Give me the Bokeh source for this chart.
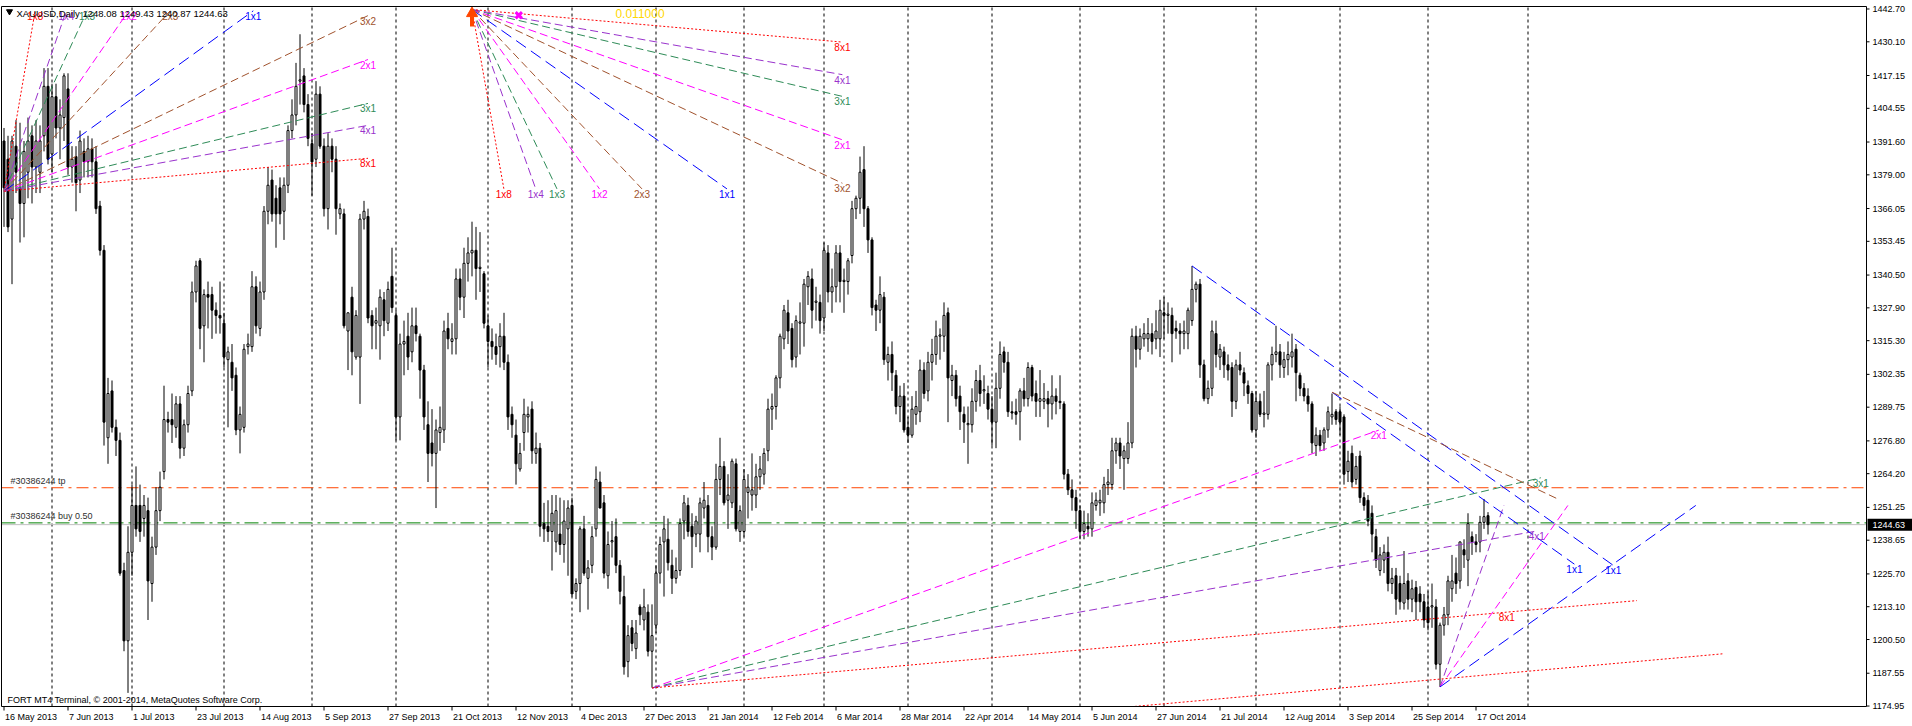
"""XAUUSD 日足チャートとギャンファンを描く."""
import typing as typ

import bokeh.models as bm
import bokeh.plotting as bp
from bokeh.core.properties import value
from bokeh.embed import file_html
from bokeh.resources import INLINE

FONT = "Liberation Sans"

# 日付ラベル (16 本ごと)
date_labels = [
    "16 May 2013", "7 Jun 2013", "1 Jul 2013", "23 Jul 2013", "14 Aug 2013", "5 Sep 2013",
    "27 Sep 2013", "21 Oct 2013", "12 Nov 2013", "4 Dec 2013", "27 Dec 2013", "21 Jan 2014",
    "12 Feb 2014", "6 Mar 2014", "28 Mar 2014", "22 Apr 2014", "14 May 2014", "5 Jun 2014",
    "27 Jun 2014", "21 Jul 2014", "12 Aug 2014", "3 Sep 2014", "25 Sep 2014", "17 Oct 2014",
]
date_step = 16

price_ticks = [
    1442.70, 1430.10, 1417.15, 1404.55, 1391.60, 1379.00, 1366.05, 1353.45, 1340.50, 1327.90, 1315.30,
    1302.35, 1289.75, 1276.80, 1264.20, 1251.25, 1238.65, 1225.70, 1213.10, 1200.50, 1187.55, 1174.95,
]

opens = [
    1392, 1385, 1362, 1390, 1374, 1368, 1380, 1394, 1382, 1380,
    1394, 1413, 1387, 1409, 1397, 1401, 1412, 1382, 1386, 1377,
    1388, 1384, 1389, 1384, 1367, 1350, 1278, 1296, 1282, 1277,
    1227, 1200, 1234, 1252, 1252, 1247, 1250, 1222, 1236, 1250,
    1265, 1285, 1285, 1282, 1291, 1274, 1283, 1296, 1334, 1346,
    1321, 1333, 1333, 1327, 1325, 1322, 1308, 1307, 1302, 1281,
    1282, 1313, 1313, 1336, 1320, 1334, 1365, 1377, 1370, 1374,
    1365, 1375, 1396, 1402, 1415, 1417, 1406, 1391, 1385, 1410,
    1390, 1366, 1390, 1385, 1364, 1364, 1319, 1332, 1309, 1309,
    1362, 1363, 1325, 1322, 1321, 1331, 1322, 1340, 1325, 1286,
    1314, 1317, 1311, 1321, 1317, 1304, 1283, 1276, 1272, 1280,
    1281, 1320, 1315, 1316, 1339, 1332, 1345, 1349, 1350, 1343,
    1341, 1321, 1315, 1313, 1313, 1317, 1307, 1287, 1279, 1266,
    1280, 1286, 1289, 1272, 1274, 1245, 1244, 1242, 1238, 1241,
    1237, 1243, 1252, 1219, 1222, 1243, 1224, 1229, 1243, 1261,
    1253, 1225, 1238, 1240, 1229, 1217, 1192, 1205, 1197, 1213,
    1208, 1211, 1196, 1206, 1226, 1238, 1239, 1229, 1224, 1227,
    1246, 1252, 1244, 1241, 1241, 1251, 1252, 1240, 1236, 1262,
    1267, 1254, 1253, 1268, 1242, 1242, 1257, 1256, 1256, 1263,
    1264, 1273, 1289, 1290, 1301, 1316, 1326, 1320, 1309, 1322,
    1322, 1336, 1339, 1330, 1330, 1324, 1349, 1334, 1336, 1349,
    1338, 1338, 1348, 1366, 1370, 1381, 1366, 1354, 1329, 1327,
    1332, 1307, 1310, 1302, 1290, 1294, 1282, 1279, 1287, 1288,
    1304, 1296, 1307, 1310, 1317, 1317, 1326, 1300, 1302, 1294,
    1287, 1283, 1283, 1292, 1300, 1296, 1295, 1289, 1284, 1297,
    1311, 1307, 1288, 1288, 1288, 1296, 1293, 1305, 1295, 1292,
    1292, 1293, 1291, 1294, 1292, 1291, 1264, 1258, 1255, 1250,
    1242, 1244, 1243, 1252, 1253, 1253, 1260, 1260, 1273, 1276,
    1270, 1270, 1276, 1317, 1312, 1316, 1316, 1318, 1316, 1316,
    1326, 1325, 1325, 1320, 1319, 1318, 1318, 1323, 1335, 1337,
    1306, 1293, 1297, 1318, 1309, 1311, 1306, 1305, 1292, 1306,
    1303, 1298, 1295, 1281, 1292, 1287, 1287, 1306, 1310, 1311,
    1305, 1308, 1309, 1312, 1302, 1297, 1294, 1291, 1275, 1279,
    1276, 1281, 1286, 1288, 1288, 1286, 1265, 1272, 1262, 1271,
    1255, 1254, 1249, 1240, 1227, 1231, 1234, 1222, 1225, 1222,
    1214.5, 1223, 1216, 1220.5, 1218, 1215, 1213, 1213, 1213, 1191,
    1206, 1210, 1220, 1226, 1223, 1235, 1231, 1240, 1238, 1238,
    1245.5, 1248.08,
]
highs = [
    1397, 1394, 1394, 1400, 1399, 1392, 1401, 1398, 1400, 1398,
    1420, 1420, 1414, 1414, 1408, 1418, 1418, 1390, 1390, 1396,
    1393, 1394, 1393, 1390, 1369, 1352, 1301, 1300, 1285, 1280,
    1230, 1244, 1260, 1267, 1260, 1256, 1255, 1240, 1259, 1265,
    1298, 1288, 1295, 1294, 1294, 1285, 1298, 1338, 1346, 1347,
    1335, 1338, 1336, 1330, 1338, 1326, 1313, 1314, 1305, 1290,
    1314, 1318, 1342, 1340, 1338, 1367, 1382, 1381, 1375, 1378,
    1378, 1398, 1408, 1422, 1433, 1420, 1410, 1395, 1415, 1413,
    1393, 1395, 1393, 1390, 1368, 1366, 1326, 1336, 1327, 1364,
    1369, 1366, 1327, 1328, 1335, 1334, 1338, 1351, 1327, 1318,
    1323, 1326, 1328, 1328, 1318, 1306, 1292, 1289, 1285, 1290,
    1323, 1326, 1322, 1343, 1343, 1351, 1355, 1361, 1359, 1357,
    1342, 1325, 1320, 1318, 1322, 1326, 1310, 1290, 1285, 1276,
    1293, 1290, 1292, 1280, 1276, 1253, 1254, 1256, 1256, 1255,
    1254, 1254, 1255, 1224, 1244, 1248, 1231, 1244, 1267, 1265,
    1256, 1242, 1246, 1247, 1231, 1225, 1206, 1208, 1208, 1214,
    1220, 1214, 1214, 1229, 1240, 1248, 1247, 1235, 1232, 1247,
    1256, 1255, 1249, 1248, 1255, 1261, 1256, 1244, 1268, 1278,
    1269, 1264, 1270, 1270, 1252, 1266, 1264, 1272, 1268, 1271,
    1274, 1293, 1295, 1302, 1318, 1329, 1331, 1322, 1325, 1330,
    1339, 1342, 1343, 1336, 1333, 1353, 1352, 1343, 1352, 1352,
    1343, 1347, 1369, 1371, 1386, 1390, 1367, 1355, 1331, 1340,
    1334, 1313, 1315, 1304, 1298, 1299, 1286, 1294, 1296, 1308,
    1307, 1311, 1316, 1323, 1320, 1330, 1328, 1306, 1304, 1298,
    1290, 1290, 1297, 1304, 1306, 1302, 1298, 1294, 1303, 1315,
    1313, 1311, 1292, 1293, 1297, 1301, 1307, 1306, 1300, 1304,
    1299, 1296, 1302, 1297, 1302, 1292, 1266, 1262, 1258, 1252,
    1250, 1249, 1257, 1257, 1258, 1263, 1266, 1278, 1278, 1278,
    1275, 1284, 1320, 1321, 1320, 1322, 1324, 1322, 1327, 1331,
    1332, 1330, 1328, 1323, 1322, 1323, 1328, 1344, 1338, 1339,
    1308, 1300, 1323, 1323, 1314, 1313, 1310, 1307, 1308, 1311,
    1305, 1300, 1296, 1296, 1295, 1296, 1307, 1313, 1321, 1314,
    1311, 1315, 1318, 1314, 1303, 1299, 1297, 1292, 1282, 1281,
    1282, 1290, 1295, 1289, 1290, 1287, 1273, 1275, 1271, 1273,
    1257, 1256, 1252, 1243, 1236, 1237, 1240, 1228, 1228, 1225,
    1234.5, 1226, 1223.5, 1223, 1221, 1218, 1219, 1222, 1216, 1207,
    1213, 1225, 1233, 1232, 1238, 1239, 1249, 1242, 1241, 1248,
    1254.5, 1249.43,
]
lows = [
    1359, 1357, 1337, 1372, 1353, 1355, 1370, 1368, 1372, 1372,
    1388, 1383, 1380, 1393, 1385, 1392, 1379, 1376, 1365, 1372,
    1378, 1378, 1378, 1364, 1348, 1275, 1268, 1280, 1271, 1225,
    1196, 1180, 1225, 1240, 1238, 1240, 1208, 1215, 1233, 1246,
    1262, 1280, 1276, 1278, 1270, 1271, 1280, 1294, 1330, 1312,
    1307, 1320, 1316, 1318, 1318, 1305, 1282, 1296, 1279, 1272,
    1280, 1310, 1311, 1318, 1317, 1331, 1360, 1361, 1351, 1360,
    1354, 1372, 1393, 1398, 1406, 1403, 1390, 1371, 1382, 1389,
    1363, 1358, 1380, 1356, 1362, 1320, 1304, 1302, 1308, 1291,
    1358, 1322, 1312, 1312, 1308, 1317, 1319, 1326, 1277, 1277,
    1302, 1304, 1307, 1315, 1293, 1281, 1261, 1267, 1251, 1273,
    1276, 1312, 1310, 1310, 1327, 1324, 1338, 1340, 1331, 1334,
    1320, 1305, 1308, 1306, 1305, 1304, 1281, 1278, 1260, 1265,
    1273, 1280, 1268, 1268, 1240, 1238, 1238, 1227, 1234, 1233,
    1230, 1225, 1217, 1216, 1211, 1225, 1212, 1226, 1240, 1251,
    1224, 1220, 1232, 1226, 1214, 1187, 1186, 1196, 1193, 1206,
    1204, 1194, 1182, 1203, 1222, 1217, 1227, 1218, 1222, 1225,
    1239, 1240, 1228, 1236, 1234, 1247, 1234, 1231, 1235, 1256,
    1252, 1243, 1251, 1242, 1238, 1240, 1247, 1250, 1251, 1258,
    1260, 1269, 1281, 1285, 1297, 1312, 1314, 1305, 1305, 1310,
    1313, 1329, 1320, 1323, 1318, 1319, 1330, 1326, 1330, 1330,
    1326, 1333, 1345, 1362, 1364, 1359, 1349, 1325, 1319, 1322,
    1306, 1300, 1296, 1287, 1284, 1280, 1276, 1278, 1283, 1284,
    1293, 1292, 1300, 1306, 1308, 1311, 1284, 1294, 1290, 1281,
    1276, 1268, 1280, 1288, 1290, 1291, 1285, 1275, 1274, 1293,
    1303, 1286, 1285, 1283, 1277, 1290, 1290, 1292, 1286, 1286,
    1289, 1282, 1285, 1287, 1289, 1262, 1256, 1250, 1243, 1239,
    1239, 1240, 1240, 1250, 1248, 1249, 1256, 1258, 1268, 1266,
    1258, 1268, 1274, 1305, 1308, 1313, 1311, 1310, 1312, 1309,
    1316, 1318, 1307, 1316, 1310, 1312, 1312, 1321, 1330, 1301,
    1292, 1291, 1294, 1305, 1304, 1301, 1300, 1286, 1289, 1302,
    1294, 1291, 1280, 1278, 1286, 1282, 1285, 1300, 1307, 1301,
    1301, 1302, 1305, 1292, 1294, 1292, 1288, 1272, 1271, 1273,
    1273, 1278, 1283, 1283, 1279, 1260, 1261, 1259, 1260, 1253,
    1250, 1244, 1234, 1228, 1225, 1226, 1219, 1218, 1210, 1212,
    1212, 1212, 1211, 1208, 1211, 1205, 1204, 1205, 1189, 1182.3,
    1202, 1206, 1215, 1218, 1220, 1228, 1221, 1233, 1234, 1234,
    1243, 1240.87,
]
closes = [
    1374, 1359, 1392, 1380, 1368, 1388, 1392, 1382, 1392, 1392,
    1413, 1385, 1409, 1397, 1402, 1417, 1382, 1385, 1376, 1392,
    1384, 1389, 1384, 1366, 1350, 1284, 1295, 1282, 1277, 1226,
    1200, 1234, 1252, 1243, 1242, 1252, 1223, 1236, 1250, 1259,
    1285, 1284, 1283, 1291, 1274, 1283, 1295, 1334, 1344, 1320,
    1333, 1332, 1327, 1325, 1324, 1309, 1311, 1301, 1281, 1287,
    1312, 1314, 1336, 1321, 1334, 1365, 1375, 1364, 1364, 1364,
    1375, 1396, 1402, 1413, 1415.5, 1406, 1393, 1384, 1410, 1390,
    1366, 1390, 1385, 1366, 1366, 1321, 1326, 1311, 1325, 1362,
    1365, 1324, 1321, 1323, 1332, 1323, 1335, 1328, 1286, 1314,
    1315, 1309, 1321, 1318, 1304, 1286, 1272, 1272, 1281, 1282,
    1319, 1316, 1316, 1339, 1332, 1345, 1349, 1350, 1343, 1343.5,
    1322, 1315, 1313, 1310, 1317, 1307, 1286, 1283, 1268, 1272,
    1287, 1287, 1273, 1274, 1244, 1243, 1242, 1249, 1250, 1237,
    1246, 1251, 1218, 1222, 1243, 1226, 1228, 1240, 1262, 1251,
    1226, 1237, 1238.5, 1229, 1219, 1190, 1202, 1199, 1203, 1210,
    1213, 1196, 1202, 1226, 1237, 1243, 1230, 1224, 1227, 1245,
    1253, 1242, 1240, 1246, 1253, 1254, 1240, 1236, 1262, 1267,
    1253, 1256, 1269, 1243, 1250, 1262, 1259, 1258, 1263, 1266,
    1272, 1289, 1290, 1301, 1317, 1327, 1319, 1308, 1323, 1322.5,
    1337, 1340, 1327, 1330.5, 1323, 1350, 1334, 1336, 1349, 1338,
    1338.5, 1346, 1366, 1370, 1380, 1366, 1354, 1328, 1327, 1333,
    1308, 1310, 1303, 1290, 1294, 1281, 1279, 1289, 1290, 1304,
    1295, 1307, 1310, 1317, 1317.5, 1325, 1301, 1302, 1293, 1288,
    1284, 1283.5, 1292, 1300, 1295, 1296.5, 1289, 1284, 1297, 1310,
    1307, 1288, 1287.5, 1287, 1296, 1293, 1305, 1294, 1292, 1293,
    1293, 1291, 1294, 1292, 1291.5, 1264, 1258, 1255, 1250, 1242,
    1245, 1243, 1253, 1254, 1254, 1260, 1261, 1273, 1276, 1271,
    1273, 1276, 1317, 1312, 1317, 1318, 1318, 1315, 1319, 1327,
    1325, 1325.5, 1318, 1319, 1318, 1319, 1327, 1335, 1337, 1306,
    1293, 1297, 1319, 1310, 1312, 1306, 1304, 1292, 1306, 1304,
    1299, 1295, 1281, 1292, 1287, 1287.5, 1306, 1310, 1311, 1306,
    1308, 1310, 1311, 1303, 1297, 1294, 1291, 1276, 1279, 1275,
    1281, 1288, 1287, 1285, 1284, 1264, 1269, 1261, 1267, 1255,
    1252, 1246, 1241, 1231, 1233, 1234, 1222, 1224, 1216, 1215,
    1222, 1216, 1220, 1215, 1215, 1208, 1207, 1213.5, 1191, 1206,
    1210, 1223, 1223, 1222, 1238, 1233, 1245, 1238, 1237, 1245.5,
    1247.7, 1244.63,
]

# 月の区切り線 (バー番号)
separator_bars = [12, 32, 55, 77, 98, 121, 142, 163, 185, 205, 226, 247, 269, 290, 313, 334, 356, 381]

bid_price = 1244.63
tp_price = 1258.8
buy_price = 1245.3
header_text = "XAUUSD,Daily  1248.08 1249.43 1240.87 1244.63"
footer_text = "FORT MT4 Terminal, \u00a9 2001-2014, MetaQuotes Software Corp."
tp_text = "#30386244 tp"
buy_text = "#30386244 buy 0.50"

ALL_RAYS = ["1x8", "1x4", "1x3", "1x2", "2x3", "1x1", "3x2", "2x1", "3x1", "4x1", "8x1"]

# ギャンファン: 原点(バー, 価格), 1x1 の傾き, 終点
fan1_origin = (0, 1372.7)
fan1_unit = 1.112
fan1_end_bar = 91
fan1_end_price = 1442.0

fan2_origin = (117, 1442.5)
fan2_unit = -1.081
fan2_end_bar = 209.6
fan2_end_price = 1373.6
fan2_scale = "0.011000"
fan2_scale_at = (159.0, 1441.0)

fan3_origin = (162, 1181.9)
fan3_unit = 1.09
fan3_rays = ["2x1", "3x1", "4x1", "8x1"]
fan3_end_bars = [343.7, 384.2, 383.2, 408.2]
fan3_label_bars = [343.7, 384.2, 383.2, 375.7]

fan4_origin = (359, 1182.3)
fan4_unit = 1.09
fan4_rays = ["1x4", "1x2", "1x1"]
fan4_end_price = 1252.0

fan5_origin = (297, 1344.0)
fan5_unit = -1.092
fan5_rays = ["1x1"]
fan5_end_bars = [402.3]

fan6_origin = (332, 1295.5)
fan6_unit = -1.09
fan6_rays = ["1x1", "3x2"]
fan6_end_bars = [392.6, 388.8]
fan6_label_bars = [392.6, None]

fan7_origin = (282.7, 1174.8)
fan7_unit = 1.1
fan7_rays = ["8x1"]
fan7_end_bars = [429.6]

buy_arrow_at = (117.0, 1441.0)
close_mark_at = (128.7, 1440.3)

GANN_STYLE: typ.Dict[str, typ.Tuple[str, str]] = {
    "1x8": ("#ff0000", "2 2"),
    "1x4": ("#9932cc", "8 4"),
    "1x3": ("#2e8b57", "8 4"),
    "1x2": ("#ff00ff", "8 4"),
    "2x3": ("#a0522d", "8 4"),
    "1x1": ("#0000ff", "12 6"),
    "3x2": ("#a0522d", "8 4"),
    "2x1": ("#ff00ff", "8 4"),
    "3x1": ("#2e8b57", "8 4"),
    "4x1": ("#9932cc", "8 4"),
    "8x1": ("#ff0000", "2 2"),
}

# 画面の大きさ (px): チャート枠は左上 (1, 6) から 1865x700, 1 本 4px
FIG_W, FIG_H = 1912, 726
PLOT_L, PLOT_T = 1, 6
PLOT_W, PLOT_H = 1865, 700
X_LO, X_HI = -0.625, 465.625
Y_LO, Y_HI = 1174.77, 1443.66
BX = (X_HI - X_LO) / PLOT_W  # 1px あたりのバー
BY = (Y_HI - Y_LO) / PLOT_H  # 1px あたりの価格


def ray_point(origin: typ.Tuple[float, float], unit: float, name: str, end_bar: float,
              end_price: typ.Optional[float] = None) -> typ.Tuple[float, float]:
    """レイの終点を求める.

    Args:
        origin: 原点
        unit: 1x1 の傾き(価格/バー)
        name: "AxB" の名前
        end_bar: 終点のバー
        end_price: 終点の価格 (先に届けばそこで止める)

    Returns:
        (バー, 価格)
    """
    t, p = name.split("x")
    slope = unit * int(p) / int(t)
    bar = end_bar
    if end_price is not None:
        bar = min(bar, origin[0] + (end_price - origin[1]) / slope)
    return bar, origin[1] + slope * (bar - origin[0])


def draw_fan(fig: bp.figure, labels: typ.Dict[str, list], origin: typ.Tuple[float, float], unit: float,
             rays: typ.List[str], end_bars: typ.List[float], end_price: typ.Optional[float],
             label_bars: typ.List[typ.Optional[float]]) -> None:
    """ギャンファンを描く."""
    for name, end_bar, label_bar in zip(rays, end_bars, label_bars):
        color, dash = GANN_STYLE[name]
        x1, y1 = ray_point(origin, unit, name, end_bar, end_price)
        fig.segment(x0=[origin[0]], y0=[origin[1]], x1=[x1], y1=[y1],
                    line_color=color, line_dash=dash, line_width=1)
        if label_bar is not None:
            lx, ly = ray_point(origin, unit, name, label_bar, end_price)
            labels["x"].append(lx)
            labels["y"].append(ly)
            labels["text"].append(name)
            labels["color"].append(color)


def put_text(fig: bp.figure, x: float, y: float, text: str, size: str = "9px", color: str = "black",
             align: str = "left", baseline: str = "middle") -> None:
    """文字を置く."""
    fig.text(x=[x], y=[y], text=[text], text_color=color, text_align=align, text_baseline=baseline,
             text_font=value(FONT), text_font_size=size)


def make_chart() -> bp.figure:
    """チャートを作る."""
    fig = bp.figure(
        width=FIG_W, height=FIG_H,
        x_range=bm.Range1d(X_LO - PLOT_L * BX, X_LO + (FIG_W - PLOT_L) * BX),
        y_range=bm.Range1d(Y_HI - (FIG_H - PLOT_T) * BY, Y_HI + PLOT_T * BY),
        x_axis_location=None, y_axis_location=None, tools="", toolbar_location=None,
        output_backend="svg", min_border=0,
        background_fill_color="white", border_fill_color="white",
    )
    fig.outline_line_color = None
    fig.grid.visible = False

    # 区切り線と水平線
    fig.segment(x0=separator_bars, y0=Y_LO, x1=separator_bars, y1=Y_HI,
                line_color="black", line_dash="3 3", line_width=1)
    fig.segment(x0=[X_LO], y0=[bid_price], x1=[X_HI], y1=[bid_price], line_color="#c0c0c0", line_width=1)
    fig.segment(x0=[X_LO], y0=[tp_price], x1=[X_HI], y1=[tp_price], line_color="#ff4500",
                line_dash="12 5 3 5", line_width=1)
    fig.segment(x0=[X_LO], y0=[buy_price], x1=[X_HI], y1=[buy_price], line_color="#008000",
                line_dash="14 5 3 5", line_width=1)

    # ローソク足
    bars = list(range(len(closes)))
    up = [c >= o for o, c in zip(opens, closes)]
    source = bp.ColumnDataSource(dict(
        x=bars, high=highs, low=lows,
        top=[max(o, c) for o, c in zip(opens, closes)],
        bottom=[min(o, c) for o, c in zip(opens, closes)],
        fill=["white" if u else "black" for u in up],
    ))
    fig.segment(x0="x", y0="low", x1="x", y1="high", line_color="black", line_width=1, source=source)
    fig.vbar(x="x", width=0.5, top="top", bottom="bottom", fill_color="fill",
             line_color="black", line_width=1, source=source)

    # ギャンファン
    labels: typ.Dict[str, list] = {"x": [], "y": [], "text": [], "color": []}
    draw_fan(fig, labels, fan1_origin, fan1_unit, ALL_RAYS, [fan1_end_bar] * len(ALL_RAYS),
             fan1_end_price, [fan1_end_bar] * len(ALL_RAYS))
    draw_fan(fig, labels, fan2_origin, fan2_unit, ALL_RAYS, [fan2_end_bar] * len(ALL_RAYS),
             fan2_end_price, [fan2_end_bar] * len(ALL_RAYS))
    draw_fan(fig, labels, fan3_origin, fan3_unit, fan3_rays, fan3_end_bars, None, fan3_label_bars)
    draw_fan(fig, labels, fan4_origin, fan4_unit, fan4_rays, [X_HI] * len(fan4_rays),
             fan4_end_price, [None] * len(fan4_rays))
    draw_fan(fig, labels, fan5_origin, fan5_unit, fan5_rays, fan5_end_bars, None, fan5_end_bars)
    draw_fan(fig, labels, fan6_origin, fan6_unit, fan6_rays, fan6_end_bars, None, fan6_label_bars)
    draw_fan(fig, labels, fan7_origin, fan7_unit, fan7_rays, fan7_end_bars, None, [None])
    fig.text(x="x", y="y", text="text", text_color="color", source=bp.ColumnDataSource(labels),
             text_align="center", text_baseline="top", text_font=value(FONT), text_font_size="10px")
    put_text(fig, fan2_scale_at[0], fan2_scale_at[1], fan2_scale, size="12px", color="#ffd700", align="center")

    # 注文の矢印と決済マーク
    fig.segment(x0=[buy_arrow_at[0]], y0=[buy_arrow_at[1] - 3 * BY], x1=[buy_arrow_at[0]],
                y1=[buy_arrow_at[1] - 13 * BY], line_color="#ff4500", line_width=4)
    fig.scatter(x=[buy_arrow_at[0]], y=[buy_arrow_at[1]], marker="triangle", size=11,
                fill_color="#ff4500", line_color="#ff4500")
    fig.scatter(x=[close_mark_at[0]], y=[close_mark_at[1]], marker="x", size=9,
                line_color="#ff00ff", line_width=3)

    # 枠と価格軸・時間軸
    fig.segment(x0=[X_LO, X_LO, X_HI, X_LO], y0=[Y_HI, Y_LO, Y_LO, Y_LO],
                x1=[X_HI, X_LO, X_HI, X_HI], y1=[Y_HI, Y_HI, Y_HI, Y_LO],
                line_color="black", line_width=1)
    fig.segment(x0=X_HI, y0=price_ticks, x1=X_HI + 3 * BX, y1=price_ticks, line_color="black", line_width=1)
    fig.text(x=X_HI + 6 * BX, y=price_ticks, text=[f"{t:.2f}" for t in price_ticks], text_color="black",
             text_align="left", text_baseline="middle", text_font=value(FONT), text_font_size="9px")
    ticks = [i * date_step for i in range(len(date_labels))]
    fig.segment(x0=ticks, y0=Y_LO, x1=ticks, y1=Y_LO - 4 * BY, line_color="black", line_width=1)
    fig.text(x=[t + BX for t in ticks], y=Y_LO - 5 * BY, text=date_labels, text_color="black",
             text_align="left", text_baseline="top", text_font=value(FONT), text_font_size="9px")
    fig.quad(left=[X_HI + 1 * BX], right=[X_LO + (FIG_W - PLOT_L) * BX], top=[bid_price + 6 * BY],
             bottom=[bid_price - 6 * BY], fill_color="black", line_color=None)
    put_text(fig, X_HI + 6 * BX, bid_price, f"{bid_price:.2f}", color="white")

    # テキスト類
    fig.scatter(x=[X_LO + 8 * BX], y=[Y_HI - 5 * BY], marker="inverted_triangle", size=6,
                fill_color="black", line_color="black")
    put_text(fig, X_LO + 15 * BX, Y_HI - 1 * BY, header_text, size="9.5px", baseline="top")
    put_text(fig, X_LO + 6 * BX, Y_LO + 2 * BY, footer_text, baseline="bottom")
    put_text(fig, X_LO + 9 * BX, tp_price + 2 * BY, tp_text, color="#303030", baseline="bottom")
    put_text(fig, X_LO + 9 * BX, buy_price + 2 * BY, buy_text, color="#303030", baseline="bottom")
    return fig


def main() -> None:
    """メイン."""
    fig = make_chart()
    with open("out.html", "w", encoding="utf-8") as f:
        f.write(file_html(fig, INLINE))


if __name__ == "__main__":
    main()
